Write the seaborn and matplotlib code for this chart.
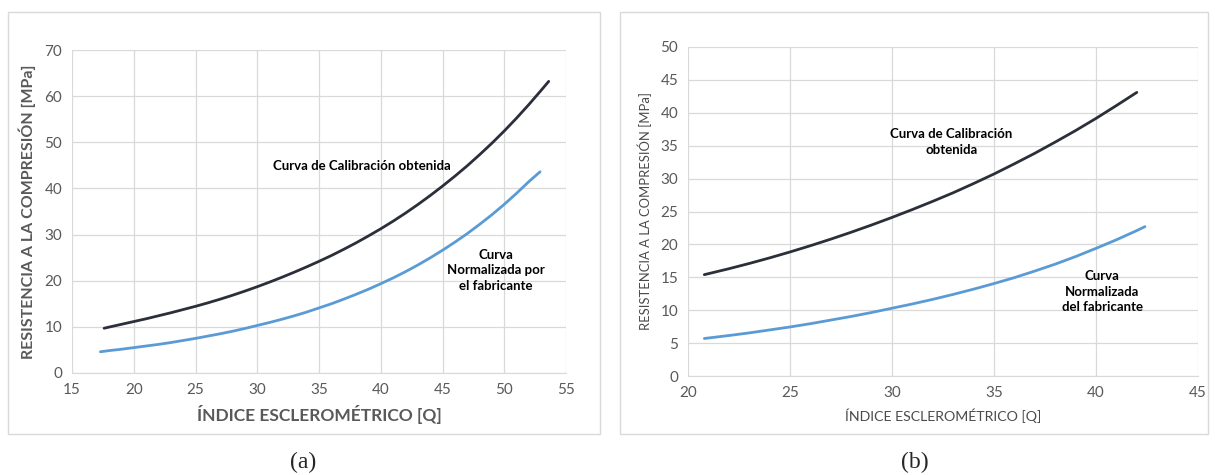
"""Curvas de calibración del esclerómetro: (a) y (b)."""
import matplotlib.pyplot as plt
import matplotlib.patches as mpatches
import pandas as pd
import seaborn as sns

sns.set_style("white")
plt.rcParams["font.family"] = ["Lato", "DejaVu Sans"]

# Panel (a)
a_calib_x = [17.6, 18, 19, 20, 21, 22, 23, 24, 25, 26, 27, 28, 29, 30, 31, 32, 33, 34, 35,
             36, 37, 38, 39, 40, 41, 42, 43, 44, 45, 46, 47, 48, 49, 50, 51, 52, 53, 53.6]
a_calib_y = [9.7, 9.95, 10.55, 11.15, 11.75, 12.4, 13.05, 13.75, 14.45, 15.2, 16.0, 16.85,
             17.75, 18.7, 19.7, 20.75, 21.85, 23.0, 24.2, 25.45, 26.8, 28.2, 29.7, 31.25,
             32.9, 34.65, 36.5, 38.45, 40.5, 42.65, 44.9, 47.3, 49.8, 52.45, 55.25, 58.2,
             61.3, 63.2]
a_norm_x = [17.3, 18, 19, 20, 21, 22, 23, 24, 25, 26, 27, 28, 29, 30, 31, 32, 33, 34, 35,
            36, 37, 38, 39, 40, 41, 42, 43, 44, 45, 46, 47, 48, 49, 50, 51, 52, 52.9]
a_norm_y = [4.6, 4.85, 5.15, 5.5, 5.85, 6.2, 6.6, 7.05, 7.5, 8.0, 8.5, 9.05, 9.65, 10.3,
            10.95, 11.65, 12.4, 13.2, 14.1, 15.0, 16.0, 17.05, 18.15, 19.35, 20.6, 21.95,
            23.4, 24.95, 26.6, 28.35, 30.2, 32.2, 34.3, 36.55, 38.95, 41.5, 43.6]

# Panel (b)
b_calib_x = [20.8, 22, 23, 24, 25, 26, 27, 28, 29, 30, 31, 32, 33, 34, 35, 36, 37, 38, 39,
             40, 41, 42]
b_calib_y = [15.4, 16.3, 17.1, 17.95, 18.85, 19.8, 20.8, 21.85, 22.95, 24.1, 25.3, 26.55,
             27.85, 29.25, 30.7, 32.25, 33.85, 35.55, 37.3, 39.15, 41.1, 43.1]
b_norm_x = [20.8, 22, 23, 24, 25, 26, 27, 28, 29, 30, 31, 32, 33, 34, 35, 36, 37, 38, 39,
            40, 41, 42, 42.4]
b_norm_y = [5.7, 6.15, 6.55, 7.0, 7.45, 7.95, 8.5, 9.05, 9.65, 10.3, 10.95, 11.65, 12.4,
            13.2, 14.05, 14.95, 15.95, 17.0, 18.15, 19.4, 20.7, 22.1, 22.7]

dark = "#2b2f3a"
blue = "#5b9bd5"
grid = "#d9d9d9"
tick_grey = "#595959"

fig = plt.figure(figsize=(12.15, 4.75), dpi=100)
W, H = 1215, 475


def px_axes(x0, y0, x1, y1):
    return fig.add_axes([x0 / W, 1 - y1 / H, (x1 - x0) / W, (y1 - y0) / H])


def frame(x0, y0, x1, y1):
    fig.patches.append(mpatches.Rectangle(
        (x0 / W, 1 - y1 / H), (x1 - x0) / W, (y1 - y0) / H,
        transform=fig.transFigure, fill=False, edgecolor="#d9d9d9", lw=1))


def style(ax, xlim, xstep, ylim, ystep, bold, lsize, lcolor):
    ax.set_xlim(*xlim)
    ax.set_ylim(*ylim)
    ax.set_xticks(range(xlim[0], xlim[1] + 1, xstep))
    ax.set_yticks(range(ylim[0], ylim[1] + 1, ystep))
    ax.grid(True, color=grid, lw=0.9)
    ax.set_axisbelow(True)
    for s in ["top", "right", "left"]:
        ax.spines[s].set_visible(False)
    ax.spines["bottom"].set_color(grid)
    ax.tick_params(length=0, labelsize=11, labelcolor=tick_grey, pad=7)
    w = "bold" if bold else "normal"
    ax.set_xlabel("ÍNDICE ESCLEROMÉTRICO [Q]", fontsize=lsize,
                  color=lcolor, fontweight=w, labelpad=6)
    ax.set_ylabel("RESISTENCIA A LA COMPRESIÓN [MPa]", fontsize=lsize * 0.92,
                  color=lcolor, fontweight=w, labelpad=6)


frame(8, 12, 600, 434)
frame(620, 12, 1208, 434)

ax1 = px_axes(72, 50, 566, 373)
df_a1 = pd.DataFrame({"x": a_calib_x, "y": a_calib_y})
df_a2 = pd.DataFrame({"x": a_norm_x, "y": a_norm_y})
sns.lineplot(data=df_a1, x="x", y="y", ax=ax1, color=dark, lw=2, sort=False)
sns.lineplot(data=df_a2, x="x", y="y", ax=ax1, color=blue, lw=2, sort=False)
style(ax1, (15, 55), 5, (0, 70), 10, True, 12.5, tick_grey)
ax1.text(38.5, 44.8, "Curva de Calibración obtenida", ha="center", va="center",
         fontsize=9.5, fontweight="bold", color="black")
ax1.text(49.3, 22.3, "Curva\nNormalizada por\nel fabricante", ha="center",
         va="center", fontsize=9.5, fontweight="bold", color="black",
         linespacing=1.35)

ax2 = px_axes(688, 47, 1198, 376)
df_b1 = pd.DataFrame({"x": b_calib_x, "y": b_calib_y})
df_b2 = pd.DataFrame({"x": b_norm_x, "y": b_norm_y})
sns.lineplot(data=df_b1, x="x", y="y", ax=ax2, color=dark, lw=2, sort=False)
sns.lineplot(data=df_b2, x="x", y="y", ax=ax2, color=blue, lw=2, sort=False)
style(ax2, (20, 45), 5, (0, 50), 5, False, 10.2, "#4a4a4a")
ax2.text(32.9, 35.6, "Curva de Calibración\nobtenida", ha="center",
         va="center", fontsize=9.5, fontweight="bold", color="black",
         linespacing=1.35)
ax2.text(40.3, 12.8, "Curva\nNormalizada\ndel fabricante", ha="center",
         va="center", fontsize=9.5, fontweight="bold", color="black",
         linespacing=1.35)

fig.text(303 / W, 1 - 462 / H, "(a)", ha="center", va="center",
         fontsize=17, family="Liberation Serif")
fig.text(915 / W, 1 - 462 / H, "(b)", ha="center", va="center",
         fontsize=17, family="Liberation Serif")

plt.savefig("out.png", dpi=100)
